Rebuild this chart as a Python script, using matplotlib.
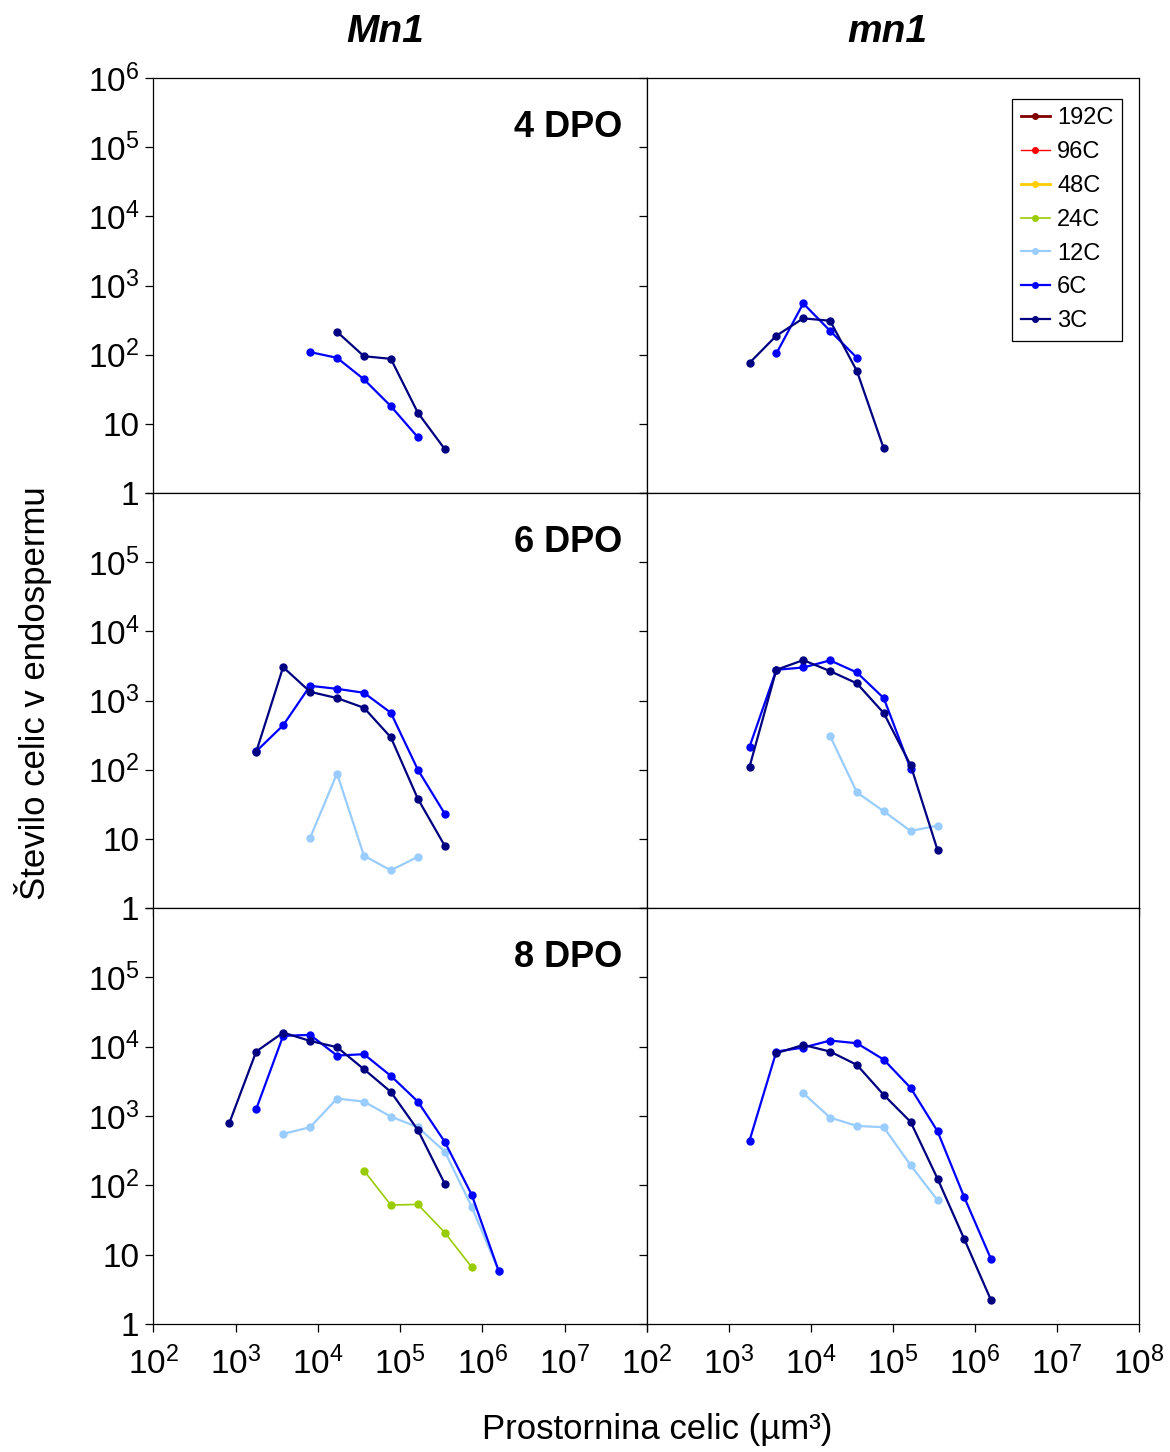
import numpy as np
import matplotlib
matplotlib.use("Agg")
import matplotlib.pyplot as plt
from matplotlib.lines import Line2D

plt.rcParams['font.family'] = ['Liberation Sans', 'DejaVu Sans']
plt.rcParams['mathtext.fontset'] = 'custom'
plt.rcParams['mathtext.rm'] = 'Liberation Sans'
plt.rcParams['mathtext.it'] = 'Liberation Sans:italic'
plt.rcParams['mathtext.bf'] = 'Liberation Sans:bold'

nan = np.nan

# cell volume classes (um^3)
volume = [838, 1780, 3780, 8040, 17100, 36300, 77100, 164000, 349000, 741000, 1570000]

# cell number per ploidy class, one list per panel/series
Mn1_4dpo_3C = [nan, nan, nan, nan, 214, 95, 87, 14.5, 4.3, nan, nan]
Mn1_4dpo_6C = [nan, nan, nan, 109, 90, 44, 18, 6.4, nan, nan, nan]

mn1_4dpo_3C = [nan, 76, 188, 335, 309, 58, 4.4, nan, nan, nan, nan]
mn1_4dpo_6C = [nan, nan, 104, 551, 221, 90, nan, nan, nan, nan, nan]

Mn1_6dpo_3C = [nan, 180, 3040, 1336, 1083, 785, 293, 38, 7.9, nan, nan]
Mn1_6dpo_6C = [nan, 184, 437, 1630, 1475, 1293, 664, 100, 23, nan, nan]
Mn1_6dpo_12C = [nan, nan, nan, 10.3, 88, 5.7, 3.5, 5.5, nan, nan, nan]

mn1_6dpo_3C = [nan, 110, 2780, 3835, 2660, 1767, 658, 116, 6.9, nan, nan]
mn1_6dpo_6C = [nan, 214, 2780, 3000, 3800, 2540, 1083, 103, nan, nan, nan]
mn1_6dpo_12C = [nan, nan, nan, nan, 306, 47, 25, 13, 15.5, nan, nan]

Mn1_8dpo_3C = [788, 8500, 15970, 12100, 9830, 4730, 2226, 630, 105, nan, nan]
Mn1_8dpo_6C = [nan, 1254, 14300, 14800, 7440, 7790, 3790, 1614, 423, 73, 5.9]
Mn1_8dpo_12C = [nan, nan, 552, 689, 1783, 1614, 980, 689, 306, 49, 5.9]
Mn1_8dpo_24C = [nan, nan, nan, nan, nan, 163, 52, 53, 20.8, 6.6, nan]

mn1_8dpo_3C = [nan, nan, 8060, 10600, 8500, 5460, 2015, 822, 125, 16.7, 2.2]
mn1_8dpo_6C = [nan, 442, 8500, 9700, 12250, 11200, 6510, 2543, 603, 67, 8.6]
mn1_8dpo_12C = [nan, nan, nan, 2133, 948, 719, 689, 195, 61, nan, nan]

ploidy = ['192C', '96C', '48C', '24C', '12C', '6C', '3C']
colors = {'192C': '#800000', '96C': '#FF0000', '48C': '#FFCC00', '24C': '#99CC00',
          '12C': '#99CCFF', '6C': '#0000FF', '3C': '#000080'}
widths = {'192C': 2.0, '96C': 1.0, '48C': 2.0, '24C': 1.2, '12C': 1.6, '6C': 1.6, '3C': 1.6}

panels = [
    [('4 DPO', {'6C': Mn1_4dpo_6C, '3C': Mn1_4dpo_3C}),
     (None, {'6C': mn1_4dpo_6C, '3C': mn1_4dpo_3C})],
    [('6 DPO', {'12C': Mn1_6dpo_12C, '6C': Mn1_6dpo_6C, '3C': Mn1_6dpo_3C}),
     (None, {'12C': mn1_6dpo_12C, '6C': mn1_6dpo_6C, '3C': mn1_6dpo_3C})],
    [('8 DPO', {'24C': Mn1_8dpo_24C, '12C': Mn1_8dpo_12C, '6C': Mn1_8dpo_6C, '3C': Mn1_8dpo_3C}),
     (None, {'12C': mn1_8dpo_12C, '6C': mn1_8dpo_6C, '3C': mn1_8dpo_3C})],
]

W, H = 1170, 1452
fig = plt.figure(figsize=(W / 100, H / 100), dpi=100)

col_x = [(153.3, 647), (647, 1139)]
row_y = [(78, 493), (493, 908), (908, 1324)]

yticks = [1, 10, 1e2, 1e3, 1e4, 1e5, 1e6]
ylabels = ['1', '10', r'$10^{2}$', r'$10^{3}$', r'$10^{4}$', r'$10^{5}$', r'$10^{6}$']
xticks = [1e2, 1e3, 1e4, 1e5, 1e6, 1e7, 1e8]
xlabels = [r'$10^{%d}$' % e for e in range(2, 9)]

axes = []
for r in range(3):
    for c in range(2):
        x0, x1 = col_x[c]
        y0, y1 = row_y[r]
        ax = fig.add_axes([x0 / W, 1 - y1 / H, (x1 - x0) / W, (y1 - y0) / H])
        ax.set_xscale('log')
        ax.set_yscale('log')
        ax.set_xlim(1e2, 1e8)
        ax.set_ylim(1, 1e6)
        ax.minorticks_off()
        ax.set_xticks(xticks)
        ax.set_yticks(yticks)
        ax.tick_params(direction='out', length=6, width=0.9, labelsize=24)
        ax.tick_params(axis='y', pad=4)
        ax.tick_params(axis='x', pad=10)
        for s in ax.spines.values():
            s.set_linewidth(0.9)

        if c == 0:
            if r == 0:
                ax.set_yticklabels(ylabels)
            else:
                ax.set_yticklabels(ylabels[:-1] + [''])
        else:
            ax.set_yticklabels([])
        if r == 2:
            if c == 0:
                ax.set_xticklabels(xlabels[:-1] + [''])
            else:
                ax.set_xticklabels(xlabels)
        else:
            ax.set_xticklabels([])

        label, series = panels[r][c]
        for name, vals in series.items():
            ax.plot(volume, vals, color=colors[name], lw=widths[name],
                    marker='o', ms=5, mec=colors[name], mfc=colors[name])
        if label:
            ax.text(0.949, 0.88, label, transform=ax.transAxes, ha='right',
                    va='center', fontsize=26, fontweight='bold')
        axes.append(ax)

# legend in the top right panel, including classes with no data
handles = [Line2D([], [], color=colors[p], lw=widths[p], marker='o', ms=4,
                  mfc=colors[p], mec=colors[p]) for p in ploidy]
leg = axes[1].legend(handles, ploidy, loc='upper right',
                     bbox_to_anchor=(0.965, 0.949), fontsize=17,
                     frameon=True, fancybox=False, edgecolor='black',
                     framealpha=1, handlelength=1.25, handletextpad=0.3,
                     labelspacing=0.5, borderpad=0.35, borderaxespad=0)
leg.get_frame().set_linewidth(0.9)

fig.text(385 / W, 1 - 32 / H, 'Mn1', ha='center', va='center',
         fontsize=28, fontweight='bold', fontstyle='italic')
fig.text(887 / W, 1 - 32 / H, 'mn1', ha='center', va='center',
         fontsize=28, fontweight='bold', fontstyle='italic')
fig.text(33 / W, 1 - 693 / H, 'Število celic v endospermu', rotation=90,
         ha='center', va='center', fontsize=25)
fig.text(657 / W, 1 - 1430 / H, 'Prostornina celic (µm³)', ha='center',
         va='center', fontsize=25)

fig.savefig('out.png', dpi=100)
